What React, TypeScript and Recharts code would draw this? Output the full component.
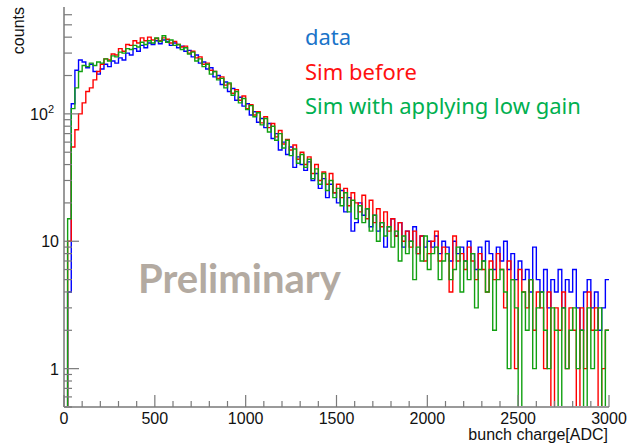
import React from "react";
import { LineChart, Line, XAxis, YAxis } from "recharts";

// Histogram binning: 150 bins of 20 ADC from 0 to 3000
const BIN_WIDTH = 20;
const X_MIN = 0;
const X_MAX = 3000;

// counts per bin
const dataCounts = [
  0, 4, 120, 220, 265, 255, 230, 245, 215, 205,
  225, 245, 235, 260, 250, 275, 265, 300, 290, 325,
  310, 345, 330, 360, 350, 375, 355, 380, 370, 345,
  360, 330, 340, 310, 315, 280, 290, 250, 255, 225,
  230, 195, 200, 170, 178, 150, 158, 128, 135, 115,
  120, 98, 104, 86, 92, 78, 84, 64, 70, 52,
  60, 48, 55, 38, 46, 40, 36, 42, 30, 34,
  26, 31, 22, 28, 24, 20, 25, 17, 22, 12,
  14, 20, 16, 18, 13, 16, 12, 14, 9, 13,
  15, 11, 14, 9, 12, 10, 13, 8, 11, 9,
  10, 9, 11, 8, 10, 9, 7, 10, 8, 9,
  7, 10, 8, 6, 9, 7, 10, 8, 6, 9,
  7, 10, 6, 8, 5, 7, 5, 6, 4, 9,
  5, 4, 6, 3, 5, 4, 6, 3, 5, 4,
  6, 3, 2, 4, 5, 3, 4, 2, 3, 5,
];

const simBefore = [
  0, 10, 55, 75, 100, 122, 150, 160, 185, 215,
  245, 270, 265, 295, 290, 325, 310, 350, 345, 375,
  360, 395, 375, 400, 380, 390, 375, 395, 385, 360,
  370, 350, 335, 340, 300, 310, 275, 280, 245, 250,
  220, 215, 190, 195, 168, 172, 145, 155, 128, 138,
  110, 118, 98, 104, 85, 95, 78, 84, 66, 74,
  58, 63, 52, 57, 44, 50, 40, 46, 34, 40,
  30, 35, 28, 34, 24, 28, 22, 26, 19, 24,
  20, 17, 23, 15, 21, 14, 18, 13, 17, 12,
  15, 11, 14, 10, 12, 9, 12, 8, 11, 7,
  8, 10, 12, 7, 9, 8, 4, 11, 7, 8,
  6, 9, 7, 5, 8, 6, 4, 7, 5, 8,
  6, 3, 7, 5, 1, 6, 4, 3, 5, 2,
  4, 3, 1, 4, 0, 3, 2, 4, 1, 3,
  2, 0, 3, 1, 4, 2, 3, 0, 1, 2,
];

const simLowGain = [
  0, 15, 110, 160, 215, 240, 235, 250, 240, 255,
  250, 270, 260, 285, 280, 305, 300, 325, 320, 345,
  335, 365, 350, 375, 360, 395, 370, 410, 365, 380,
  345, 350, 320, 330, 295, 305, 260, 270, 235, 245,
  205, 215, 185, 190, 160, 175, 140, 150, 122, 132,
  108, 116, 95, 102, 82, 92, 72, 80, 62, 70,
  54, 62, 47, 53, 41, 48, 38, 44, 31, 37,
  28, 34, 25, 30, 22, 26, 19, 24, 17, 21,
  15, 19, 14, 18, 12, 16, 10, 14, 11, 13,
  9, 12, 7, 11, 8, 10, 5, 9, 7, 11,
  6, 8, 9, 5, 7, 8, 5, 6, 9, 4,
  7, 5, 8, 3, 6, 7, 4, 6, 2, 5,
  6, 4, 1, 5, 3, 0, 4, 2, 5, 1,
  3, 4, 2, 1, 3, 2, 0, 3, 1, 2,
  3, 1, 2, 0, 3, 1, 2, 3, 0, 2,
];

const seriesNames = ["data", "Sim before", "Sim with applying low gain"];
const lineColors = ["#0000ff", "#ff0000", "#11a011"];
const legendColors = ["#1a74c9", "#ff1010", "#00b050"];

const xTicks = [
  0, 100, 200, 300, 400, 500, 600, 700, 800, 900, 1000, 1100, 1200, 1300, 1400,
  1500, 1600, 1700, 1800, 1900, 2000, 2100, 2200, 2300, 2400, 2500, 2600, 2700,
  2800, 2900, 3000,
];
const xMajorTicks = [0, 500, 1000, 1500, 2000, 2500, 3000];

const Y_DOMAIN = [0.5, 690];
const yTicks = [
  0.5, 0.6, 0.7, 0.8, 0.9, 1, 2, 3, 4, 5, 6, 7, 8, 9, 10, 20, 30, 40, 50, 60,
  70, 80, 90, 100, 200, 300, 400, 500, 600,
];
const yMajorTicks = [1, 10, 100];

// zero-count bins fall below the log axis floor (clipped, as in ROOT)
const ZERO_FLOOR = 0.05;
const show = (v: number) => (v > 0 ? v : ZERO_FLOOR);

const rows = dataCounts.map((_, i) => ({
  x: X_MIN + i * BIN_WIDTH,
  d: show(dataCounts[i]),
  s: show(simBefore[i]),
  g: show(simLowGain[i]),
}));
rows.push({
  x: X_MAX,
  d: show(dataCounts[dataCounts.length - 1]),
  s: show(simBefore[simBefore.length - 1]),
  g: show(simLowGain[simLowGain.length - 1]),
});

const AXIS_FONT = "'Liberation Sans', Arial, Helvetica, sans-serif";
const TICK_COLOR = "#7a7a7a";
const FRAME_COLOR = "#9a9a9a";

const XTick = (props: any) => {
  const { x, y, payload } = props;
  const v = payload.value;
  const major = xMajorTicks.includes(v);
  return (
    <g>
      <line x1={x} x2={x} y1={y} y2={y - (major ? 12 : 6)} stroke={TICK_COLOR} strokeWidth={1.2} />
      {major && (
        <text x={x} y={y + 17} textAnchor="middle" fontSize={16} fontFamily={AXIS_FONT} fill="#111">
          {v}
        </text>
      )}
    </g>
  );
};

const YTick = (props: any) => {
  const { x, y, payload } = props;
  const v = payload.value;
  const major = yMajorTicks.includes(v);
  let label: React.ReactNode = null;
  if (v === 1 || v === 10) {
    label = (
      <text x={x - 5} y={y + 6} textAnchor="end" fontSize={16} fontFamily={AXIS_FONT} fill="#111">
        {String(v)}
      </text>
    );
  } else if (v === 100) {
    label = (
      <text x={x - 10} y={y + 6} textAnchor="end" fontSize={16} fontFamily={AXIS_FONT} fill="#111">
        10
        <tspan dy={-7} fontSize={11}>2</tspan>
      </text>
    );
  }
  return (
    <g>
      <line x1={x} x2={x + (major ? 15 : 8)} y1={y} y2={y} stroke={TICK_COLOR} strokeWidth={1.2} />
      {label}
    </g>
  );
};

export default function App() {
  const keys = ["d", "s", "g"];
  return (
    <div style={{ position: "absolute", left: 0, top: 0, width: 633, height: 445, background: "#fff" }}>
      <LineChart
        width={633}
        height={445}
        data={rows}
        margin={{ top: 7, right: 24, bottom: 8, left: 4 }}
      >
        <XAxis
          dataKey="x"
          type="number"
          domain={[X_MIN, X_MAX]}
          ticks={xTicks}
          interval={0}
          tick={XTick}
          tickLine={false}
          tickSize={0}
          tickMargin={0}
          height={30}
          allowDataOverflow
          axisLine={{ stroke: FRAME_COLOR, strokeWidth: 2 }}
        />
        <XAxis
          xAxisId="top"
          orientation="top"
          dataKey="x"
          type="number"
          domain={[X_MIN, X_MAX]}
          height={0}
          tick={false}
          tickLine={false}
          axisLine={{ stroke: FRAME_COLOR, strokeWidth: 1.5 }}
        />
        <YAxis
          scale="log"
          type="number"
          domain={Y_DOMAIN}
          ticks={yTicks}
          interval={0}
          allowDataOverflow
          width={60}
          tick={YTick}
          tickLine={false}
          tickSize={0}
          tickMargin={0}
          axisLine={{ stroke: FRAME_COLOR, strokeWidth: 2 }}
        />
        <YAxis
          yAxisId="right"
          orientation="right"
          scale="log"
          type="number"
          domain={Y_DOMAIN}
          allowDataOverflow
          width={0}
          tick={false}
          tickLine={false}
          axisLine={{ stroke: FRAME_COLOR, strokeWidth: 1.5 }}
        />
        {keys.map((k, i) => (
          <Line
            key={k}
            dataKey={k}
            name={seriesNames[i]}
            type="stepAfter"
            stroke={lineColors[i]}
            strokeWidth={1.4}
            dot={false}
            activeDot={false}
            isAnimationActive={false}
          />
        ))}
      </LineChart>
      <svg
        width={633}
        height={445}
        style={{ position: "absolute", left: 0, top: 0, pointerEvents: "none" }}
      >
        <text
          transform="translate(24,7) rotate(-90)"
          textAnchor="end"
          fontSize={16}
          fontFamily={AXIS_FONT}
          fill="#111"
        >
          counts
        </text>
        <text x={608} y={440} textAnchor="end" fontSize={16} fontFamily={AXIS_FONT} fill="#111">
          bunch charge[ADC]
        </text>
        <text x={138} y={293} fontSize={40} fontWeight={700} fontFamily="Lato, 'Open Sans', sans-serif" fill="#b3aaa1">
          Preliminary
        </text>
        {seriesNames.map((n, i) => (
          <text
            key={n}
            x={305}
            y={45 + i * 34.5}
            fontSize={22}
            fontFamily="'Noto Sans', sans-serif"
            fill={legendColors[i]}
          >
            {n}
          </text>
        ))}
      </svg>
    </div>
  );
}
